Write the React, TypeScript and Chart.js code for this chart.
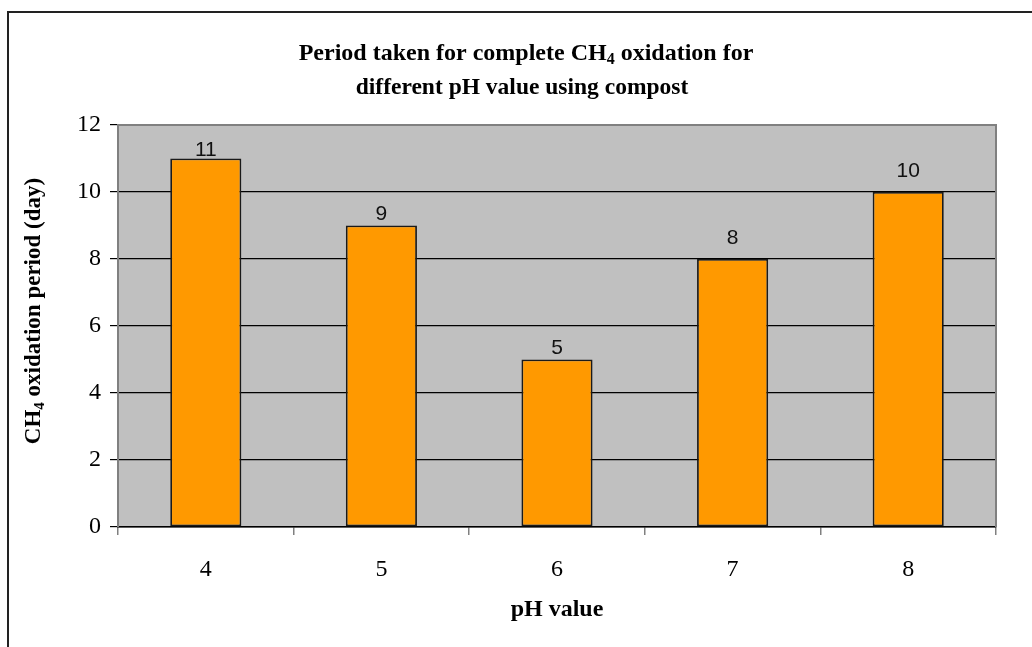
import { useEffect, useRef } from 'react';
import { Chart, registerables } from 'chart.js';

Chart.register(...registerables);

// pH of the compost and the days needed for complete CH4 oxidation
const phValues = ['4', '5', '6', '7', '8'];
const oxidationDays = [11, 9, 5, 8, 10];
const yTickValues = [0, 2, 4, 6, 8, 10, 12];

type Seg = { text: string; sub?: boolean };

const titleLine1: Seg[] = [
  { text: 'Period taken for complete CH' },
  { text: '4', sub: true },
  { text: ' oxidation for' },
];
const titleLine2: Seg[] = [{ text: 'different pH value using compost' }];
const yTitle: Seg[] = [
  { text: 'CH' },
  { text: '4', sub: true },
  { text: ' oxidation period (day)' },
];
const xTitle: Seg[] = [{ text: 'pH value' }];

const SERIF = '"Liberation Serif", "Times New Roman", serif';
const SANS = '"Liberation Sans", Arial, sans-serif';

// Draws a run of text with subscripts, centred on (0,0) of the current transform
function drawRich(ctx: CanvasRenderingContext2D, segs: Seg[], size: number) {
  const subSize = Math.round(size * 0.66);
  const fontFor = (s: Seg) => `bold ${s.sub ? subSize : size}px ${SERIF}`;
  let total = 0;
  for (const s of segs) {
    ctx.font = fontFor(s);
    total += ctx.measureText(s.text).width;
  }
  let x = -total / 2;
  ctx.textAlign = 'left';
  ctx.textBaseline = 'alphabetic';
  for (const s of segs) {
    ctx.font = fontFor(s);
    ctx.fillText(s.text, x, s.sub ? size * 0.5 : size * 0.33);
    x += ctx.measureText(s.text).width;
  }
}

const chromePlugin = {
  id: 'chrome',
  beforeDraw(chart: any) {
    const { ctx, chartArea: a, width, height } = chart;
    ctx.save();
    ctx.fillStyle = '#ffffff';
    ctx.fillRect(0, 0, width, height);
    // outer frame (runs off the right and bottom edges)
    ctx.strokeStyle = '#222222';
    ctx.lineWidth = 2;
    ctx.beginPath();
    ctx.moveTo(8, height + 5);
    ctx.lineTo(8, 12);
    ctx.lineTo(width + 5, 12);
    ctx.stroke();
    // plot background
    ctx.fillStyle = '#C0C0C0';
    ctx.fillRect(a.left, a.top, a.right - a.left, a.bottom - a.top);
    ctx.restore();
  },
  beforeDatasetsDraw(chart: any) {
    const { ctx, chartArea: a } = chart;
    ctx.save();
    ctx.strokeStyle = '#808080';
    ctx.lineWidth = 2;
    ctx.beginPath();
    ctx.moveTo(a.left, a.bottom);
    ctx.lineTo(a.left, a.top);
    ctx.lineTo(a.right, a.top);
    ctx.lineTo(a.right, a.bottom);
    ctx.stroke();
    ctx.restore();
  },
  afterDraw(chart: any) {
    const { ctx, chartArea: a } = chart;
    ctx.save();
    ctx.fillStyle = '#000000';
    ctx.translate(526, 52);
    drawRich(ctx, titleLine1, 24);
    ctx.restore();
    ctx.save();
    ctx.fillStyle = '#000000';
    ctx.translate(522, 86);
    drawRich(ctx, titleLine2, 23.5);
    ctx.restore();
    ctx.save();
    ctx.fillStyle = '#000000';
    ctx.translate((a.left + a.right) / 2, 608);
    drawRich(ctx, xTitle, 24);
    ctx.restore();
    ctx.save();
    ctx.fillStyle = '#000000';
    ctx.translate(32, 311);
    ctx.rotate(-Math.PI / 2);
    drawRich(ctx, yTitle, 23);
    ctx.restore();
  },
};

const barLabelPlugin = {
  id: 'barLabels',
  afterDatasetsDraw(chart: any, _args: any, opts: any) {
    const { ctx } = chart;
    const meta = chart.getDatasetMeta(0);
    const values = chart.data.datasets[0].data as number[];
    ctx.save();
    ctx.fillStyle = '#111111';
    ctx.font = `21px ${SANS}`;
    ctx.textAlign = 'center';
    ctx.textBaseline = 'middle';
    meta.data.forEach((bar: any, i: number) => {
      const gap = (opts.gaps && opts.gaps[i]) ?? 10;
      ctx.fillText(String(values[i]), bar.x, bar.y - gap);
    });
    ctx.restore();
  },
};

export default function App() {
  const ref = useRef<HTMLCanvasElement>(null);

  useEffect(() => {
    if (!ref.current) return;
    const chart = new Chart(ref.current, {
      type: 'bar',
      data: {
        labels: phValues,
        datasets: [
          {
            data: oxidationDays,
            backgroundColor: '#FF9900',
            borderColor: '#1a1a1a',
            borderWidth: 1.8,
            borderSkipped: false,
            categoryPercentage: 1,
            barPercentage: 0.405,
          },
        ],
      },
      options: {
        responsive: false,
        animation: false,
        events: [],
        layout: { padding: { top: 125, right: 36, bottom: 0, left: 0 } },
        plugins: {
          legend: { display: false },
          title: { display: false },
          tooltip: { enabled: false },
          barLabels: { gaps: [8, 11, 11, 21, 21] },
        } as any,
        scales: {
          x: {
            afterFit: (s: any) => {
              s.height = 120;
            },
            grid: {
              offset: true,
              drawOnChartArea: false,
              drawTicks: true,
              tickLength: 8,
              color: '#808080',
              lineWidth: 1.5,
            },
            border: { display: true, color: '#000000', width: 1.5 },
            ticks: {
              color: '#000000',
              font: { family: SERIF, size: 24 },
              padding: 20,
            },
          },
          y: {
            min: 0,
            max: 12,
            afterFit: (s: any) => {
              s.width = 118;
            },
            afterBuildTicks: (s: any) => {
              s.ticks = yTickValues.map((v) => ({ value: v }));
            },
            grid: {
              color: (c: any) => (c.tick && c.tick.value === 12 ? 'rgba(0,0,0,0)' : '#000000'),
              tickColor: '#000000',
              lineWidth: 1.2,
              tickLength: 8,
            },
            border: { display: false },
            ticks: {
              color: '#000000',
              font: { family: SERIF, size: 24 },
              padding: 9,
            },
          },
        },
      },
      plugins: [chromePlugin, barLabelPlugin],
    });
    return () => chart.destroy();
  }, []);

  return (
    <div style={{ position: 'absolute', left: 0, top: 0, width: 1032, height: 647 }}>
      <canvas ref={ref} width={1032} height={647} />
    </div>
  );
}
